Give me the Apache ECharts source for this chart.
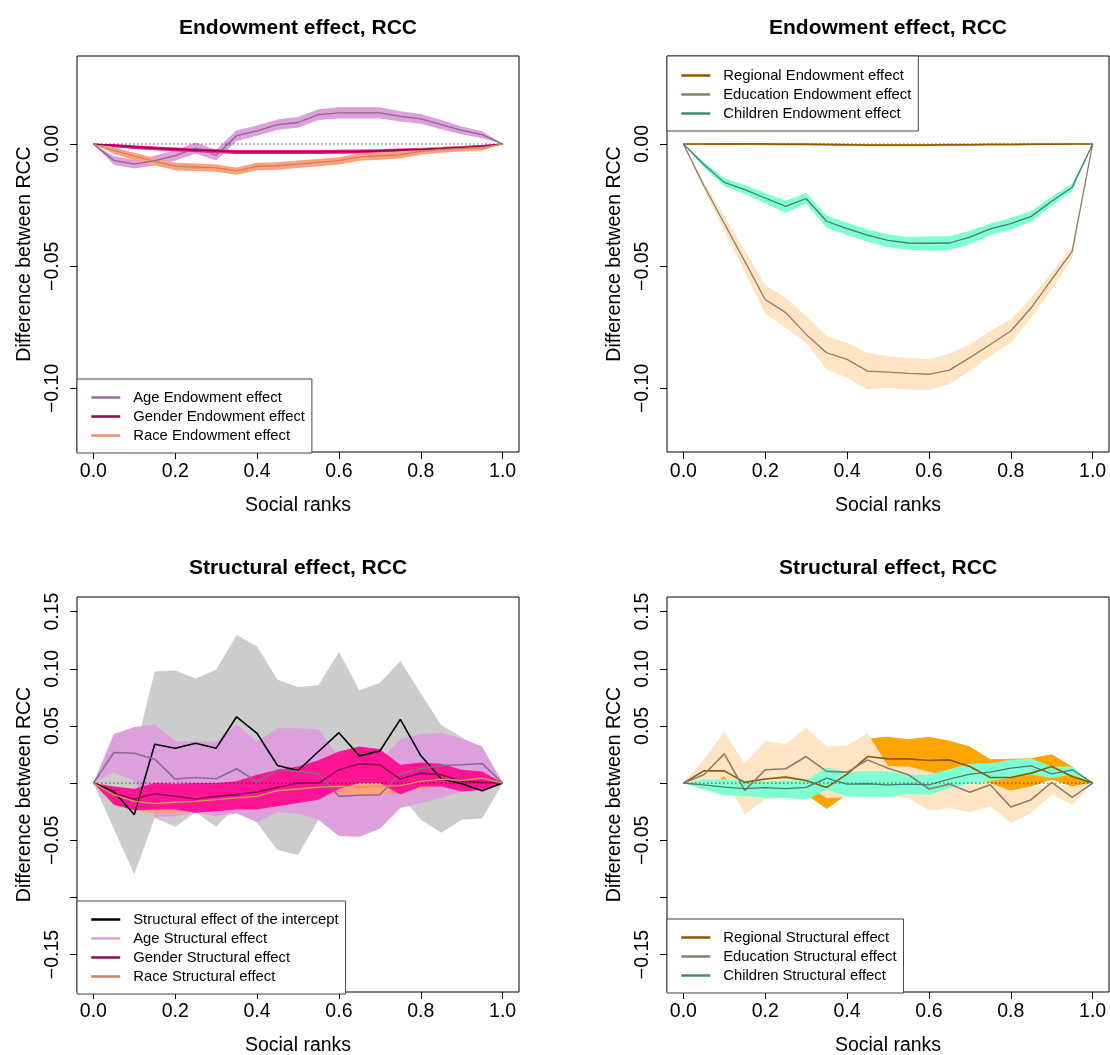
<!DOCTYPE html>
<html>
<head>
<meta charset="utf-8">
<script src="https://cdn.jsdelivr.net/npm/echarts@6/dist/echarts.min.js"></script>
<style>
html, body { margin: 0; padding: 0; background: #fff; }
#chart { width: 1110px; height: 1055px; }
</style>
</head>
<body>
<div id="chart"></div>
<script>
// Social rank grid shared by every curve
const ranks = [0, 0.05, 0.10, 0.15, 0.20, 0.25, 0.30, 0.35, 0.40, 0.45, 0.50,
               0.55, 0.60, 0.65, 0.70, 0.75, 0.80, 0.85, 0.90, 0.95, 1.00];

const xTicks = [0, 0.2, 0.4, 0.6, 0.8, 1.0];
const yTicksEndow = [-0.10, -0.05, 0.00];
const yTicksStruct = [-0.15, -0.10, -0.05, 0.00, 0.05, 0.10, 0.15];
const yLabelsStruct = [-0.15, -0.05, 0.05, 0.10, 0.15];

const panelTitles = ['Endowment effect, RCC', 'Endowment effect, RCC',
                     'Structural effect, RCC', 'Structural effect, RCC'];
const xName = 'Social ranks';
const yName = 'Difference between RCC';

// ---- Endowment effects: age, gender, race ----
const ageEndow   = [0, -0.0067, -0.0082, -0.0068, -0.0048, -0.0017, -0.0046, 0.0034, 0.0054, 0.0079, 0.0088, 0.0120, 0.0127, 0.0127, 0.0127, 0.0113, 0.0103, 0.0079, 0.0056, 0.0038, 0];
const ageEndowLo = [0, -0.0085, -0.0100, -0.0088, -0.0068, -0.0040, -0.0068, 0.0012, 0.0034, 0.0058, 0.0066, 0.0098, 0.0104, 0.0104, 0.0104, 0.0092, 0.0083, 0.0060, 0.0040, 0.0024, 0];
const ageEndowHi = [0, -0.0050, -0.0064, -0.0048, -0.0026, 0.0006, -0.0024, 0.0056, 0.0076, 0.0100, 0.0110, 0.0142, 0.0150, 0.0150, 0.0150, 0.0134, 0.0123, 0.0098, 0.0072, 0.0052, 0];

const genderEndow   = [0, -0.0006, -0.0012, -0.0017, -0.0021, -0.0025, -0.0028, -0.0032, -0.0032, -0.0032, -0.0032, -0.0032, -0.0031, -0.0030, -0.0028, -0.0025, -0.0022, -0.0018, -0.0013, -0.0008, 0];
const genderEndowLo = [0, -0.0013, -0.0020, -0.0026, -0.0030, -0.0034, -0.0037, -0.0041, -0.0041, -0.0041, -0.0041, -0.0041, -0.0040, -0.0039, -0.0036, -0.0033, -0.0029, -0.0025, -0.0019, -0.0013, 0];
const genderEndowHi = [0, 0.0000, -0.0005, -0.0010, -0.0014, -0.0018, -0.0021, -0.0025, -0.0025, -0.0025, -0.0025, -0.0025, -0.0024, -0.0023, -0.0021, -0.0018, -0.0016, -0.0012, -0.0008, -0.0004, 0];

const raceEndow   = [0, -0.0027, -0.0050, -0.0071, -0.0091, -0.0094, -0.0098, -0.0110, -0.0091, -0.0089, -0.0082, -0.0075, -0.0068, -0.0053, -0.0048, -0.0044, -0.0030, -0.0023, -0.0019, -0.0016, 0];
const raceEndowLo = [0, -0.0040, -0.0066, -0.0087, -0.0107, -0.0110, -0.0114, -0.0126, -0.0107, -0.0105, -0.0098, -0.0091, -0.0084, -0.0069, -0.0064, -0.0059, -0.0044, -0.0036, -0.0031, -0.0027, 0];
const raceEndowHi = [0, -0.0014, -0.0036, -0.0057, -0.0077, -0.0080, -0.0084, -0.0096, -0.0077, -0.0075, -0.0068, -0.0061, -0.0054, -0.0039, -0.0034, -0.0030, -0.0017, -0.0011, -0.0008, -0.0006, 0];

// ---- Endowment effects: regional, education, children ----
const regionalEndow   = [0, 0, 0, 0, 0, -0.0001, -0.0001, -0.0002, -0.0003, -0.0004, -0.0004, -0.0004, -0.0004, -0.0003, -0.0003, -0.0002, -0.0002, -0.0001, -0.0001, 0, 0];
const regionalEndowLo = [0, -0.0003, -0.0004, -0.0004, -0.0005, -0.0006, -0.0006, -0.0007, -0.0008, -0.0009, -0.0009, -0.0009, -0.0009, -0.0008, -0.0007, -0.0006, -0.0006, -0.0005, -0.0004, -0.0003, 0];
const regionalEndowHi = [0, 0.0003, 0.0003, 0.0004, 0.0004, 0.0003, 0.0003, 0.0002, 0.0001, 0.0000, 0.0000, 0.0000, 0.0000, 0.0001, 0.0001, 0.0002, 0.0002, 0.0003, 0.0003, 0.0003, 0];

const eduEndow   = [0, -0.0170, -0.0325, -0.0480, -0.0636, -0.0690, -0.0779, -0.0854, -0.0881, -0.0929, -0.0933, -0.0938, -0.0942, -0.0925, -0.0874, -0.0820, -0.0765, -0.0670, -0.0554, -0.0439, 0];
const eduEndowLo = [0, -0.0185, -0.0355, -0.0525, -0.0694, -0.0752, -0.0813, -0.0922, -0.0956, -0.1004, -0.0997, -0.1004, -0.1007, -0.0983, -0.0929, -0.0868, -0.0813, -0.0711, -0.0595, -0.0466, 0];
const eduEndowHi = [0, -0.0155, -0.0295, -0.0435, -0.0578, -0.0629, -0.0704, -0.0786, -0.0813, -0.0854, -0.0868, -0.0874, -0.0881, -0.0857, -0.0820, -0.0765, -0.0718, -0.0629, -0.0527, -0.0418, 0];

const childEndow   = [0, -0.0084, -0.0157, -0.0187, -0.0221, -0.0255, -0.0223, -0.0316, -0.0346, -0.0373, -0.0394, -0.0405, -0.0406, -0.0405, -0.0381, -0.0347, -0.0326, -0.0296, -0.0234, -0.0177, 0];
const childEndowLo = [0, -0.0095, -0.0173, -0.0205, -0.0242, -0.0282, -0.0243, -0.0343, -0.0372, -0.0400, -0.0422, -0.0433, -0.0437, -0.0435, -0.0410, -0.0372, -0.0350, -0.0318, -0.0252, -0.0192, 0];
const childEndowHi = [0, -0.0073, -0.0140, -0.0168, -0.0200, -0.0232, -0.0200, -0.0292, -0.0322, -0.0350, -0.0370, -0.0380, -0.0378, -0.0377, -0.0355, -0.0325, -0.0303, -0.0274, -0.0216, -0.0163, 0];

// ---- Structural effects: intercept, age, gender, race ----
const interStruct   = [0, -0.0073, -0.0276, 0.0339, 0.0305, 0.0348, 0.0305, 0.0580, 0.0435, 0.0154, 0.0110, 0.0276, 0.0441, 0.0238, 0.0281, 0.0557, 0.0241, 0.0038, -0.0006, -0.0067, 0];
const interStructLo = [0, -0.0400, -0.0798, -0.0305, -0.0383, -0.0255, -0.0383, -0.0200, -0.0350, -0.0586, -0.0630, -0.0320, -0.0300, -0.0330, -0.0310, -0.0100, -0.0320, -0.0435, -0.0320, -0.0310, 0];
const interStructHi = [0, 0.0350, 0.0250, 0.0977, 0.0986, 0.0914, 0.0992, 0.1296, 0.1195, 0.0905, 0.0841, 0.0856, 0.1146, 0.0812, 0.0876, 0.1067, 0.0783, 0.0508, 0.0400, 0.0300, 0];

const ageStruct   = [0, 0.0267, 0.0261, 0.0209, 0.0035, 0.0049, 0.0038, 0.0125, 0.0009, 0.0116, 0.0102, 0.0081, -0.0116, -0.0107, -0.0102, 0.0081, 0.0125, 0.0154, 0.0160, 0.0171, 0];
const ageStructLo = [0, 0.0093, 0.0020, -0.0300, -0.0290, -0.0255, -0.0290, -0.0267, -0.0340, -0.0255, -0.0267, -0.0320, -0.0464, -0.0470, -0.0400, -0.0218, -0.0174, -0.0130, -0.0073, -0.0058, 0];
const ageStructHi = [0, 0.0430, 0.0490, 0.0513, 0.0368, 0.0363, 0.0363, 0.0513, 0.0363, 0.0480, 0.0480, 0.0470, 0.0230, 0.0250, 0.0200, 0.0383, 0.0430, 0.0440, 0.0390, 0.0320, 0];

const genderStruct   = [0, -0.0093, -0.0139, -0.0093, -0.0116, -0.0139, -0.0116, -0.0101, -0.0078, -0.0038, 0.0000, 0.0000, 0.0116, 0.0168, 0.0160, 0.0035, 0.0087, 0.0073, 0.0015, 0.0006, 0];
const genderStructLo = [0, -0.0189, -0.0238, -0.0232, -0.0232, -0.0260, -0.0247, -0.0232, -0.0232, -0.0203, -0.0174, -0.0145, -0.0052, 0.0000, 0.0000, -0.0101, -0.0029, -0.0029, -0.0073, -0.0058, 0];
const genderStructHi = [0, -0.0030, -0.0050, 0.0000, -0.0006, 0.0000, 0.0000, 0.0015, 0.0072, 0.0116, 0.0145, 0.0200, 0.0276, 0.0320, 0.0296, 0.0160, 0.0180, 0.0168, 0.0116, 0.0101, 0];

const raceStruct   = [0, -0.0101, -0.0160, -0.0180, -0.0168, -0.0160, -0.0145, -0.0130, -0.0116, -0.0067, -0.0052, -0.0035, -0.0029, -0.0035, -0.0029, -0.0023, 0.0015, 0.0035, 0.0023, 0.0044, 0];
const raceStructLo = [0, -0.0160, -0.0240, -0.0265, -0.0262, -0.0250, -0.0220, -0.0205, -0.0190, -0.0140, -0.0125, -0.0110, -0.0100, -0.0105, -0.0100, -0.0090, -0.0050, -0.0030, -0.0040, -0.0015, 0];
const raceStructHi = [0, -0.0045, -0.0090, -0.0110, -0.0095, -0.0085, -0.0075, -0.0060, -0.0045, 0.0005, 0.0020, 0.0040, 0.0040, 0.0030, 0.0040, 0.0045, 0.0080, 0.0100, 0.0085, 0.0100, 0];

// ---- Structural effects: regional, education, children ----
const regionalStruct   = [0, 0.0107, 0.0107, 0.0006, 0.0035, 0.0052, 0.0023, -0.0038, 0.0078, 0.0232, 0.0212, 0.0212, 0.0197, 0.0203, 0.0145, 0.0049, 0.0049, 0.0087, 0.0145, 0.0058, 0];
const regionalStructLo = [0, 0.0040, 0.0030, -0.0080, -0.0060, -0.0050, -0.0100, -0.0226, -0.0100, 0.0070, 0.0100, 0.0100, 0.0080, 0.0050, 0.0000, -0.0080, -0.0067, -0.0030, 0.0030, -0.0030, 0];
const regionalStructHi = [0, 0.0180, 0.0200, 0.0175, 0.0130, 0.0150, 0.0150, 0.0150, 0.0250, 0.0390, 0.0406, 0.0383, 0.0406, 0.0371, 0.0319, 0.0209, 0.0212, 0.0217, 0.0252, 0.0145, 0];

const eduStruct   = [0, 0.0073, 0.0255, -0.0064, 0.0116, 0.0125, 0.0232, 0.0102, 0.0096, 0.0203, 0.0130, 0.0073, -0.0052, -0.0009, -0.0081, -0.0015, -0.0209, -0.0145, 0.0006, -0.0125, 0];
const eduStructLo = [0, -0.0058, 0.0060, -0.0276, -0.0139, -0.0130, -0.0020, -0.0130, -0.0125, -0.0101, -0.0116, -0.0130, -0.0240, -0.0218, -0.0255, -0.0203, -0.0348, -0.0261, -0.0101, -0.0189, 0];
const eduStructHi = [0, 0.0203, 0.0450, 0.0168, 0.0368, 0.0342, 0.0487, 0.0319, 0.0328, 0.0435, 0.0150, 0.0145, 0.0100, 0.0050, 0.0030, 0.0000, -0.0070, -0.0040, 0.0000, -0.0030, 0];

const childStruct   = [0, -0.0015, -0.0035, -0.0049, -0.0040, -0.0049, -0.0038, 0.0044, -0.0009, -0.0006, -0.0015, -0.0009, -0.0015, 0.0035, 0.0078, 0.0096, 0.0130, 0.0151, 0.0081, 0.0116, 0];
const childStructLo = [0, -0.0058, -0.0107, -0.0116, -0.0130, -0.0130, -0.0145, -0.0058, -0.0116, -0.0122, -0.0122, -0.0093, -0.0107, -0.0044, -0.0006, 0.0015, 0.0044, 0.0073, 0.0044, 0.0073, 0];
const childStructHi = [0, 0.0029, 0.0029, 0.0023, 0.0015, 0.0023, 0.0029, 0.0136, 0.0101, 0.0101, 0.0101, 0.0073, 0.0073, 0.0122, 0.0168, 0.0174, 0.0203, 0.0212, 0.0145, 0.0145, 0];

// ---------------------------------------------------------------
const FONT = '"Liberation Sans", Arimo, Arial, Helvetica, sans-serif';
const MINUS = '\u2212';

const gridBoxes = [
  { left: 77,  top: 56,  width: 442, height: 396 },
  { left: 667, top: 56,  width: 442, height: 396 },
  { left: 77,  top: 597, width: 442, height: 395 },
  { left: 667, top: 597, width: 442, height: 395 }
];
const yRanges = [[-0.126, 0.036], [-0.126, 0.036], [-0.1828, 0.1628], [-0.1828, 0.1628]];

const pairs = ys => ranks.map((x, i) => [x, ys[i]]);
const fmtY = v => (v < -1e-9 ? MINUS : '') + Math.abs(v).toFixed(2);

// Confidence band: one filled polygon between the lower and upper bounds
function band(gi, lo, hi, color, z) {
  return {
    type: 'custom', xAxisIndex: gi, yAxisIndex: gi, silent: true, z,
    data: ranks.map((x, i) => [x, lo[i], hi[i]]),
    encode: { x: 0, y: [1, 2] },
    renderItem: (params, api) => {
      if (params.dataIndex !== 0) return null;
      const upper = ranks.map((x, i) => api.coord([x, hi[i]]));
      const lower = ranks.map((x, i) => api.coord([x, lo[i]])).reverse();
      return { type: 'polygon', shape: { points: upper.concat(lower) }, style: { fill: color } };
    }
  };
}
function curve(gi, name, ys, color, width, z) {
  return { type: 'line', name, xAxisIndex: gi, yAxisIndex: gi, data: pairs(ys),
    symbol: 'none', lineStyle: { color, width }, itemStyle: { color }, silent: true, z };
}
function zeroLine(gi) {
  return { type: 'line', xAxisIndex: gi, yAxisIndex: gi, data: [[0, 0], [1, 0]],
    symbol: 'none', lineStyle: { color: '#000', width: 1, type: [1, 3] }, silent: true, z: 4 };
}

const series = [
  // top left
  band(0, ageEndowLo, ageEndowHi, '#DDA0DD', 1),
  band(0, genderEndowLo, genderEndowHi, '#FF1493', 2),
  band(0, raceEndowLo, raceEndowHi, '#FFA07A', 3),
  zeroLine(0),
  curve(0, 'Age Endowment effect', ageEndow, '#8B668B', 1.3, 5),
  curve(0, 'Gender Endowment effect', genderEndow, '#8B0A50', 1.6, 5),
  curve(0, 'Race Endowment effect', raceEndow, '#C8826A', 1.3, 5),
  // top right
  band(1, regionalEndowLo, regionalEndowHi, '#FFA500', 1),
  band(1, eduEndowLo, eduEndowHi, '#FFE4C4', 2),
  band(1, childEndowLo, childEndowHi, '#7FFFD4', 3),
  zeroLine(1),
  curve(1, 'Regional Endowment effect', regionalEndow, '#8B5A00', 1.6, 5),
  curve(1, 'Education Endowment effect', eduEndow, '#8B7D6B', 1.3, 5),
  curve(1, 'Children Endowment effect', childEndow, '#4E7A6C', 1.3, 5),
  // bottom left
  band(2, interStructLo, interStructHi, '#CCCCCC', 1),
  band(2, ageStructLo, ageStructHi, '#DDA0DD', 2),
  band(2, raceStructLo, raceStructHi, '#FFA07A', 3),
  band(2, genderStructLo, genderStructHi, '#FF1493', 3),
  zeroLine(2),
  curve(2, 'Structural effect of the intercept', interStruct, '#000000', 1.6, 5),
  curve(2, 'Age Structural effect', ageStruct, '#8B6B8B', 1.6, 5),
  curve(2, 'Gender Structural effect', genderStruct, '#8B0A50', 1.6, 5),
  curve(2, 'Race Structural effect', raceStruct, '#C8A050', 1.3, 5),
  // bottom right
  band(3, regionalStructLo, regionalStructHi, '#FFA500', 1),
  band(3, eduStructLo, eduStructHi, '#FFE4C4', 2),
  band(3, childStructLo, childStructHi, '#7FFFD4', 3),
  zeroLine(3),
  curve(3, 'Regional Structural effect', regionalStruct, '#8B5A00', 1.6, 5),
  curve(3, 'Education Structural effect', eduStruct, '#8B7D6B', 1.6, 5),
  curve(3, 'Children Structural effect', childStruct, '#4E7A6C', 1.3, 5)
];

const legendText = { fontSize: 14.8, color: '#000', fontFamily: FONT, lineHeight: 14, padding: [0, 0, 0, 8] };
function legendBox(left, top, padding, items) {
  return {
    orient: 'vertical', left, top, padding, itemGap: 4, itemWidth: 29, itemHeight: 14,
    backgroundColor: '#fff', borderColor: '#444', borderWidth: 1, borderRadius: 0,
    selectedMode: false, textStyle: legendText,
    data: items.map(([name, color]) => ({
      name, lineStyle: { color, width: 2.5 }, itemStyle: { color, opacity: 0 }
    }))
  };
}

const option = {
  animation: false,
  backgroundColor: '#fff',
  textStyle: { fontFamily: FONT },
  title: panelTitles.map((text, i) => ({
    text,
    left: gridBoxes[i].left + gridBoxes[i].width / 2,
    top: i < 2 ? 28 : 568,
    textAlign: 'center', textVerticalAlign: 'middle', padding: 0,
    textStyle: { fontSize: 21, fontWeight: 'bold', color: '#000', fontFamily: FONT }
  })),
  grid: gridBoxes.map(g => ({
    ...g, show: true, borderColor: '#000', borderWidth: 1, backgroundColor: 'transparent',
    containLabel: false, outerBoundsMode: 'none'
  })),
  xAxis: gridBoxes.map((g, i) => ({
    gridIndex: i, type: 'value', min: -0.04, max: 1.04,
    axisLine: { show: false, onZero: false }, splitLine: { show: false },
    axisTick: { show: true, customValues: xTicks, length: 7, lineStyle: { color: '#000', width: 1 } },
    axisLabel: { customValues: xTicks, formatter: v => v.toFixed(1), fontSize: 19.5, color: '#000', fontFamily: FONT, margin: 10 },
    name: xName, nameLocation: 'middle', nameGap: 44,
    nameTextStyle: { fontSize: 19.5, color: '#000', fontFamily: FONT }
  })),
  yAxis: gridBoxes.map((g, i) => ({
    gridIndex: i, type: 'value', min: yRanges[i][0], max: yRanges[i][1],
    axisLine: { show: false, onZero: false }, splitLine: { show: false },
    axisTick: { show: true, customValues: i < 2 ? yTicksEndow : yTicksStruct, length: 7, lineStyle: { color: '#000', width: 1 } },
    axisLabel: { customValues: i < 2 ? yTicksEndow : yLabelsStruct, formatter: fmtY, rotate: 90,
                 fontSize: 19.5, color: '#000', fontFamily: FONT, margin: 14 },
    name: yName, nameLocation: 'middle', nameGap: 42, nameRotate: 90,
    nameTextStyle: { fontSize: 19.5, color: '#000', fontFamily: FONT }
  })),
  legend: [
    legendBox(77, 379, [11, 7, 10, 13], [
      ['Age Endowment effect', '#9B6E9B'],
      ['Gender Endowment effect', '#8B0A50'],
      ['Race Endowment effect', '#E8906A']]),
    legendBox(667, 56, [12, 7, 10, 13], [
      ['Regional Endowment effect', '#8B5A00'],
      ['Education Endowment effect', '#8B7D6B'],
      ['Children Endowment effect', '#458B74']]),
    legendBox(77, 901, [11, 7, 10, 13], [
      ['Structural effect of the intercept', '#000000'],
      ['Age Structural effect', '#DDA0DD'],
      ['Gender Structural effect', '#8B0A50'],
      ['Race Structural effect', '#CD8162']]),
    legendBox(667, 919, [11, 7, 10, 13], [
      ['Regional Structural effect', '#8B5A00'],
      ['Education Structural effect', '#8B7D6B'],
      ['Children Structural effect', '#458B74']])
  ],
  series
};

const chart = echarts.init(document.getElementById('chart'), null, { renderer: 'canvas' });
chart.setOption(option);
</script>
</body>
</html>
